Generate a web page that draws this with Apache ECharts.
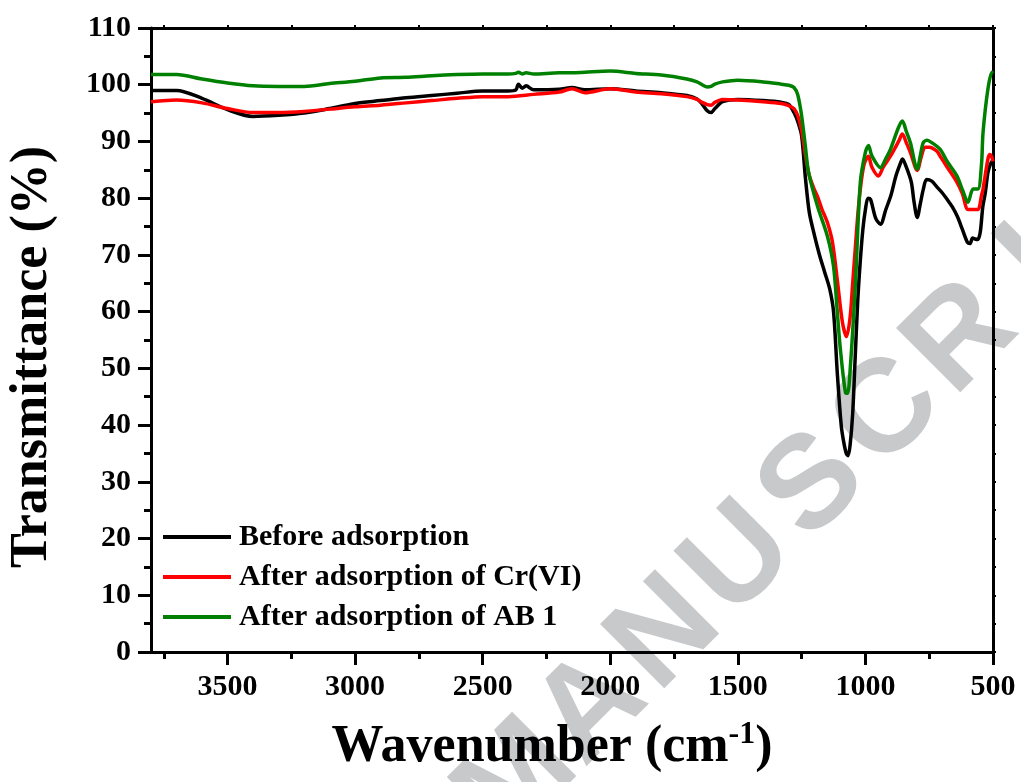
<!DOCTYPE html>
<html>
<head>
<meta charset="utf-8">
<title>FTIR spectra</title>
<script src="https://cdn.jsdelivr.net/npm/echarts@6/dist/echarts.min.js"></script>
<style>
  html, body { margin: 0; padding: 0; background: #fff; }
  #chart { width: 1021px; height: 782px; }
</style>
</head>
<body>
<div id="chart"></div>
<script>
// wavenumber (cm-1) / transmittance (%)
const beforeX = [3800, 3700, 3600, 3500, 3400, 3300, 3200, 3100, 3000, 2900, 2800, 2700, 2600, 2500, 2400, 2370, 2360, 2345, 2330, 2300, 2200, 2150, 2100, 2000, 1900, 1800, 1700, 1660, 1640, 1620, 1605, 1590, 1560, 1500, 1400, 1330, 1300, 1280, 1265, 1250, 1235, 1220, 1200, 1180, 1160, 1140, 1125, 1110, 1095, 1085, 1075, 1068, 1060, 1050, 1040, 1030, 1020, 1010, 1000, 990, 980, 960, 941, 920, 900, 880, 860, 855, 840, 820, 810, 797, 785, 773, 760, 740, 720, 700, 680, 660, 640, 620, 600, 590, 580, 570, 560, 550, 540, 530, 520, 510, 500]
const beforeY = [99.0, 99.0, 97.6, 95.6, 94.4, 94.6, 95.0, 95.8, 96.7, 97.2, 97.7, 98.1, 98.5, 98.9, 98.9, 99.1, 100.1, 99.4, 99.8, 99.1, 99.2, 99.5, 99.1, 99.3, 98.9, 98.6, 98.1, 97.5, 96.6, 95.4, 95.1, 95.8, 97.0, 97.4, 97.2, 96.9, 96.5, 95.1, 93.5, 91.0, 83.5, 77.5, 73.5, 70.0, 67.0, 64.0, 60.0, 49.0, 40.0, 37.0, 35.0, 34.6, 36.5, 42.0, 52.0, 62.0, 69.0, 74.5, 78.0, 80.0, 79.8, 76.5, 75.4, 78.0, 80.5, 84.0, 86.5, 86.9, 85.5, 82.8, 79.5, 76.6, 79.0, 81.6, 83.3, 83.0, 82.0, 81.0, 79.8, 78.5, 76.8, 74.5, 72.2, 72.0, 73.0, 72.8, 72.7, 74.0, 78.5, 81.0, 84.5, 86.0, 86.8]

const crX = [3800, 3700, 3600, 3500, 3400, 3300, 3200, 3100, 3000, 2900, 2800, 2700, 2600, 2500, 2400, 2300, 2200, 2150, 2100, 2000, 1900, 1800, 1700, 1660, 1640, 1620, 1605, 1590, 1560, 1500, 1400, 1330, 1300, 1280, 1265, 1250, 1235, 1220, 1200, 1188, 1170, 1149, 1129, 1109, 1090, 1074, 1060, 1050, 1040, 1030, 1020, 1005, 988, 975, 949, 930, 902, 870, 855, 840, 824, 797, 780, 766, 750, 720, 707, 680, 641, 620, 598, 578, 559, 545, 539, 520, 512, 505, 500]
const crY = [97.0, 97.3, 96.8, 95.8, 95.1, 95.1, 95.3, 95.7, 96.1, 96.4, 96.8, 97.2, 97.6, 97.9, 97.9, 98.3, 98.7, 99.3, 98.6, 99.3, 98.7, 98.4, 97.9, 97.4, 96.9, 96.5, 96.4, 96.9, 97.4, 97.3, 97.0, 96.7, 96.3, 95.8, 94.5, 92.0, 87.5, 84.0, 81.5, 80.3, 78.0, 75.7, 72.2, 65.1, 58.1, 55.6, 59.0, 65.0, 71.0, 77.0, 81.6, 86.0, 87.4, 85.5, 83.9, 85.5, 87.4, 90.0, 91.3, 89.8, 88.1, 84.9, 87.5, 89.0, 89.0, 88.3, 87.4, 85.5, 82.8, 80.8, 78.0, 78.0, 78.0, 80.5, 81.6, 86.9, 87.7, 87.3, 86.5]

const abX = [3800, 3700, 3600, 3500, 3400, 3300, 3200, 3100, 3000, 2900, 2800, 2700, 2600, 2500, 2400, 2370, 2360, 2345, 2330, 2300, 2200, 2150, 2100, 2000, 1900, 1800, 1700, 1660, 1640, 1620, 1605, 1590, 1560, 1500, 1400, 1330, 1300, 1280, 1265, 1250, 1235, 1223, 1188, 1149, 1125, 1109, 1098, 1078, 1070, 1059, 1039, 1020, 1000, 988, 975, 941, 920, 902, 870, 855, 840, 824, 797, 785, 773, 758, 740, 707, 680, 641, 620, 598, 578, 559, 545, 539, 520, 504, 500]
const abY = [101.8, 101.8, 101.0, 100.3, 99.8, 99.7, 99.7, 100.2, 100.6, 101.2, 101.3, 101.6, 101.8, 101.9, 101.9, 102.0, 102.2, 101.9, 102.1, 101.9, 102.1, 102.1, 102.2, 102.4, 102.0, 101.7, 101.0, 100.5, 100.0, 99.6, 99.7, 100.1, 100.5, 100.8, 100.5, 100.1, 99.9, 99.5, 98.2, 94.5, 89.0, 84.6, 78.6, 73.3, 68.0, 59.2, 53.3, 45.7, 45.6, 50.3, 65.1, 82.8, 88.1, 89.3, 87.5, 85.4, 87.0, 88.6, 92.5, 93.6, 91.8, 89.8, 85.1, 87.5, 89.8, 90.2, 89.8, 88.6, 86.5, 83.9, 81.5, 79.3, 81.6, 81.6, 86.0, 91.6, 99.2, 102.2, 102.0]

const seriesNames = ['Before adsorption', 'After adsorption of Cr(VI)', 'After adsorption of AB 1']
const seriesColors = ['#000000', '#ff0000', '#008000']

const xMajor = [500, 1000, 1500, 2000, 2500, 3000, 3500]
const xMinor = [750, 1250, 1750, 2250, 2750, 3250, 3750]
const xTop = [500, 750, 1000, 1250, 1500, 1750, 2000, 2250, 2500, 2750, 3000, 3250, 3500, 3750]

const serif = '"Liberation Serif", "Times New Roman", serif'

function pairs(xs, ys) {
  return xs.map((x, i) => [x, ys[i]])
}

// watermark letters along a 45 degree line
const mark = 'MANUSCRIPT'
const markEls = []
for (let k = 0; k < mark.length; k++) {
  markEls.push({
    type: 'text',
    z: -10,
    x: 814 + (k - 4) * 74,
    y: 487 - (k - 4) * 74,
    rotation: Math.PI / 4,
    style: {
      text: mark[k],
      font: 'bold 132px "Liberation Sans", Arial, sans-serif',
      fill: '#c8c9cb',
      align: 'center',
      verticalAlign: 'middle'
    }
  })
}

const chart = echarts.init(document.getElementById('chart'))

const blackLine = { color: '#000', width: 3 }
const plainNum = v => String(v)

chart.setOption({
  backgroundColor: '#fff',
  animation: false,
  grid: { left: 151, right: 28, top: 28, bottom: 130, containLabel: false },
  legend: {
    orient: 'vertical',
    left: 163,
    top: 522,
    padding: 0,
    itemGap: 10,
    itemWidth: 68,
    itemHeight: 4,
    icon: 'rect',
    data: seriesNames,
    textStyle: {
      fontFamily: serif,
      fontWeight: 'bold',
      fontSize: 30,
      color: '#000',
      padding: [0, 0, 0, 3]
    }
  },
  xAxis: [
    {
      type: 'value',
      min: 500,
      max: 3800,
      inverse: true,
      position: 'bottom',
      splitLine: { show: false },
      axisLine: { lineStyle: blackLine },
      axisTick: { customValues: xMajor, length: 13, lineStyle: blackLine },
      axisLabel: {
        customValues: xMajor,
        formatter: plainNum,
        margin: 20,
        fontFamily: serif,
        fontWeight: 'bold',
        fontSize: 30,
        color: '#000'
      }
    },
    {
      type: 'value',
      min: 500,
      max: 3800,
      inverse: true,
      position: 'bottom',
      splitLine: { show: false },
      axisLine: { show: false },
      axisTick: { customValues: xMinor, length: 7, lineStyle: blackLine },
      axisLabel: { show: false }
    },
    {
      type: 'value',
      min: 500,
      max: 3800,
      inverse: true,
      position: 'top',
      splitLine: { show: false },
      axisLine: { lineStyle: blackLine },
      axisTick: { customValues: xTop, length: 3, lineStyle: { color: '#000', width: 2 } },
      axisLabel: { show: false }
    }
  ],
  yAxis: [
    {
      type: 'value',
      min: 0,
      max: 110,
      interval: 10,
      position: 'left',
      splitLine: { show: false },
      axisLine: { lineStyle: blackLine },
      axisTick: { length: 13, lineStyle: blackLine },
      minorTick: { show: true, splitNumber: 2, length: 7, lineStyle: blackLine },
      axisLabel: {
        formatter: plainNum,
        margin: 20,
        fontFamily: serif,
        fontWeight: 'bold',
        fontSize: 30,
        color: '#000'
      }
    },
    {
      type: 'value',
      min: 0,
      max: 110,
      interval: 5,
      position: 'right',
      splitLine: { show: false },
      axisLine: { lineStyle: blackLine },
      axisTick: { length: 3, lineStyle: { color: '#000', width: 2 } },
      axisLabel: { show: false }
    }
  ],
  graphic: {
    elements: markEls.concat([
      {
        type: 'text',
        x: 33,
        y: 357,
        rotation: Math.PI / 2,
        style: {
          text: 'Transmittance (%)',
          font: 'bold 52px ' + serif,
          fill: '#000',
          align: 'center',
          verticalAlign: 'middle'
        }
      },
      {
        type: 'text',
        x: 552,
        y: 748,
        style: {
          text: '{a|Wavenumber (cm}{s|-1}{a|)}',
          align: 'center',
          verticalAlign: 'middle',
          rich: {
            a: { font: 'bold 52px ' + serif, fill: '#000' },
            s: { font: 'bold 32px ' + serif, fill: '#000', padding: [0, 0, 26, 0] }
          }
        }
      }
    ])
  },
  series: [
    { data: pairs(beforeX, beforeY) },
    { data: pairs(crX, crY) },
    { data: pairs(abX, abY) }
  ].map((s, i) => ({
    name: seriesNames[i],
    type: 'line',
    xAxisIndex: 0,
    yAxisIndex: 0,
    data: s.data,
    showSymbol: false,
    symbol: 'none',
    smooth: 0.3,
    color: seriesColors[i],
    lineStyle: { color: seriesColors[i], width: 3.5 },
    z: 2 + i
  }))
})
</script>
</body>
</html>
